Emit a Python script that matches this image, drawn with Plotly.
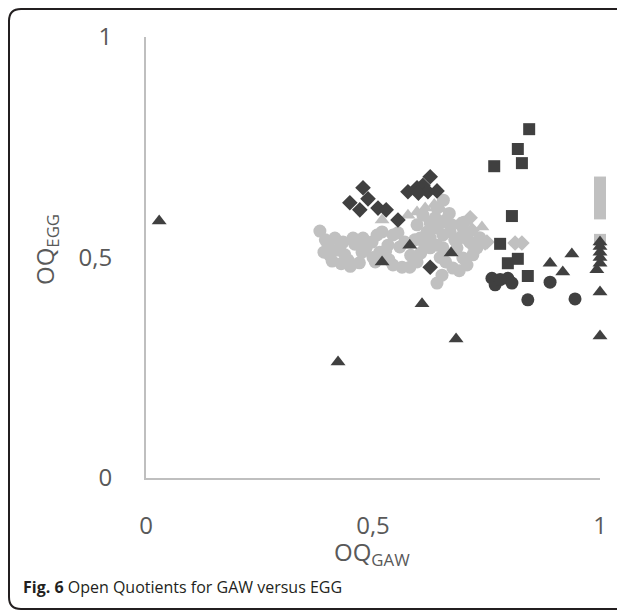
import plotly.graph_objects as go

# ---- data (OQ_GAW, OQ_EGG) ----
light_circle_x = [0.383, 0.401, 0.416, 0.423, 0.434, 0.438, 0.445, 0.456, 0.476, 0.478,
                  0.498, 0.509, 0.520, 0.533, 0.544, 0.555, 0.559, 0.544, 0.564, 0.581,
                  0.597, 0.604, 0.619, 0.626, 0.641, 0.654, 0.670, 0.641, 0.654, 0.685,
                  0.698, 0.707, 0.720, 0.729, 0.641, 0.652, 0.610, 0.641, 0.637, 0.626,
                  0.597, 0.405, 0.427, 0.460, 0.485, 0.515, 0.528, 0.583, 0.605, 0.626,
                  0.680, 0.692, 0.713, 0.660, 0.676, 0.690, 0.614, 0.592, 0.570, 0.654,
                  0.630, 0.618, 0.668, 0.700, 0.735, 0.655, 0.648, 0.470, 0.450, 0.500,
                  0.410, 0.430, 0.392, 0.395, 0.505, 0.535, 0.660, 0.672, 0.700]
light_circle_y = [0.560, 0.528, 0.544, 0.517, 0.535, 0.506, 0.494, 0.544, 0.512, 0.544,
                  0.535, 0.551, 0.558, 0.528, 0.551, 0.556, 0.524, 0.483, 0.478, 0.478,
                  0.490, 0.544, 0.558, 0.544, 0.567, 0.551, 0.558, 0.528, 0.522, 0.522,
                  0.499, 0.483, 0.506, 0.522, 0.442, 0.460, 0.596, 0.612, 0.590, 0.578,
                  0.574, 0.505, 0.523, 0.530, 0.522, 0.512, 0.515, 0.505, 0.510, 0.522,
                  0.540, 0.545, 0.535, 0.490, 0.476, 0.470, 0.528, 0.540, 0.535, 0.580,
                  0.565, 0.535, 0.600, 0.560, 0.545, 0.630, 0.500, 0.488, 0.480, 0.500,
                  0.492, 0.486, 0.512, 0.540, 0.490, 0.495, 0.585, 0.575, 0.580]

light_tri_x = [0.520, 0.577, 0.597, 0.615, 0.740, 0.635, 0.650]
light_tri_y = [0.585, 0.596, 0.603, 0.612, 0.569, 0.620, 0.610]

light_dia_x = [0.714, 0.718, 0.751, 0.747, 0.813, 0.828, 0.703, 0.690, 0.725]
light_dia_y = [0.590, 0.562, 0.535, 0.533, 0.533, 0.533, 0.544, 0.575, 0.520]

light_sq_x = [1.0, 1.0, 1.0, 1.0, 1.0, 1.0, 1.0, 1.0, 1.0]
light_sq_y = [0.600, 0.610, 0.620, 0.630, 0.640, 0.650, 0.660, 0.670, 0.540]

dark_dia_x = [0.626, 0.478, 0.449, 0.489, 0.471, 0.511, 0.529, 0.555, 0.577, 0.597,
              0.610, 0.621, 0.641, 0.600, 0.626]
dark_dia_y = [0.683, 0.658, 0.624, 0.633, 0.608, 0.612, 0.608, 0.585, 0.649, 0.658,
              0.664, 0.649, 0.651, 0.646, 0.478]

dark_sq_x = [0.844, 0.819, 0.767, 0.828, 0.806, 0.780, 0.797, 0.819, 0.841]
dark_sq_y = [0.791, 0.746, 0.707, 0.714, 0.594, 0.531, 0.487, 0.497, 0.458]

dark_tri_x = [0.029, 0.423, 0.520, 0.581, 0.672, 0.608, 0.683, 0.890, 0.938, 0.918,
              1.000, 1.000, 1.000, 1.000, 1.000, 1.000, 0.993, 1.000]
dark_tri_y = [0.583, 0.263, 0.490, 0.528, 0.510, 0.395, 0.315, 0.487, 0.508, 0.467,
              0.422, 0.322, 0.535, 0.512, 0.500, 0.487, 0.472, 0.525]

dark_circ_x = [0.762, 0.769, 0.797, 0.806, 0.890, 0.841, 0.945, 0.780]
dark_circ_y = [0.453, 0.438, 0.453, 0.442, 0.444, 0.404, 0.406, 0.450]

tick_vals = [0, 0.5, 1]
tick_text = ["0", "0,5", "1"]

LIGHT = "#c0c0c0"
DARK = "#404040"

fig = go.Figure()

def add(x, y, symbol, color, size):
    fig.add_trace(go.Scatter(x=x, y=y, mode="markers", cliponaxis=False,
                             marker=dict(symbol=symbol, color=color, size=size,
                                         line=dict(width=0)),
                             showlegend=False, hoverinfo="x+y"))

add(light_circle_x, light_circle_y, "circle", LIGHT, 13)
add(light_tri_x, light_tri_y, "triangle-up", LIGHT, 13)
add(light_dia_x, light_dia_y, "diamond", LIGHT, 12)
add(light_sq_x, light_sq_y, "square", LIGHT, 12)
add(dark_dia_x, dark_dia_y, "diamond", DARK, 12)
add(dark_sq_x, dark_sq_y, "square", DARK, 12)
add(dark_tri_x, dark_tri_y, "triangle-up", DARK, 13)
add(dark_circ_x, dark_circ_y, "circle", DARK, 13)

# page has an 8px body margin: work in page pixels, subtract offset
OFF = 8
FW, FH = 625 - OFF, 613 - OFF
L, T, W, H = 146 - OFF, 37 - OFF, 454, 441

def px(x):
    return (x - OFF - L) / W

def py(y):
    return (T + H - (y - OFF)) / H

tick_font = dict(family="Open Sans, sans-serif", size=24, color="#595959")

fig.update_layout(
    width=FW, height=FH,
    margin=dict(l=L, r=FW - L - W, t=T, b=FH - T - H, pad=0),
    paper_bgcolor="white", plot_bgcolor="white",
    xaxis=dict(range=[0, 1], tickvals=tick_vals, ticktext=tick_text, showgrid=False,
               zeroline=False, showline=True, linecolor="#bfbfbf", linewidth=2,
               tickfont=tick_font, ticks="", ticklabelstandoff=25, fixedrange=True),
    yaxis=dict(range=[0, 1], tickvals=tick_vals, ticktext=tick_text, showgrid=False,
               zeroline=False, showline=True, linecolor="#bfbfbf", linewidth=2,
               tickfont=tick_font, ticks="", ticklabelstandoff=27, fixedrange=True),
)

# rounded figure frame (page pixel coords)
x0, y0, y1, xr = px(9), py(9), py(609), px(660)
r = 12
rx, ry = r / W, r / H
path = (f"M {xr},{y0} L {x0 + rx},{y0} Q {x0},{y0} {x0},{y0 - ry} "
        f"L {x0},{y1 + ry} Q {x0},{y1} {x0 + rx},{y1} L {xr},{y1}")
fig.add_shape(type="path", path=path, xref="paper", yref="paper",
              line=dict(color="#231f20", width=2), layer="above")

title_font = dict(family="Open Sans, sans-serif", size=24, color="#595959")
fig.add_annotation(text="OQ<sub>EGG</sub>", xref="paper", yref="paper",
                   x=px(46), y=py(250), textangle=-90, showarrow=False,
                   xanchor="center", yanchor="middle", font=title_font)
fig.add_annotation(text="OQ<sub>GAW</sub>", xref="paper", yref="paper",
                   x=px(372), y=py(553), showarrow=False,
                   xanchor="center", yanchor="middle", font=title_font)
fig.add_annotation(text="<b>Fig. 6</b> Open Quotients for GAW versus EGG",
                   xref="paper", yref="paper", x=px(21), y=py(587), showarrow=False,
                   xanchor="left", yanchor="middle",
                   font=dict(family="Open Sans, sans-serif", size=16, color="#231f20"))

fig.write_html("out.html")
